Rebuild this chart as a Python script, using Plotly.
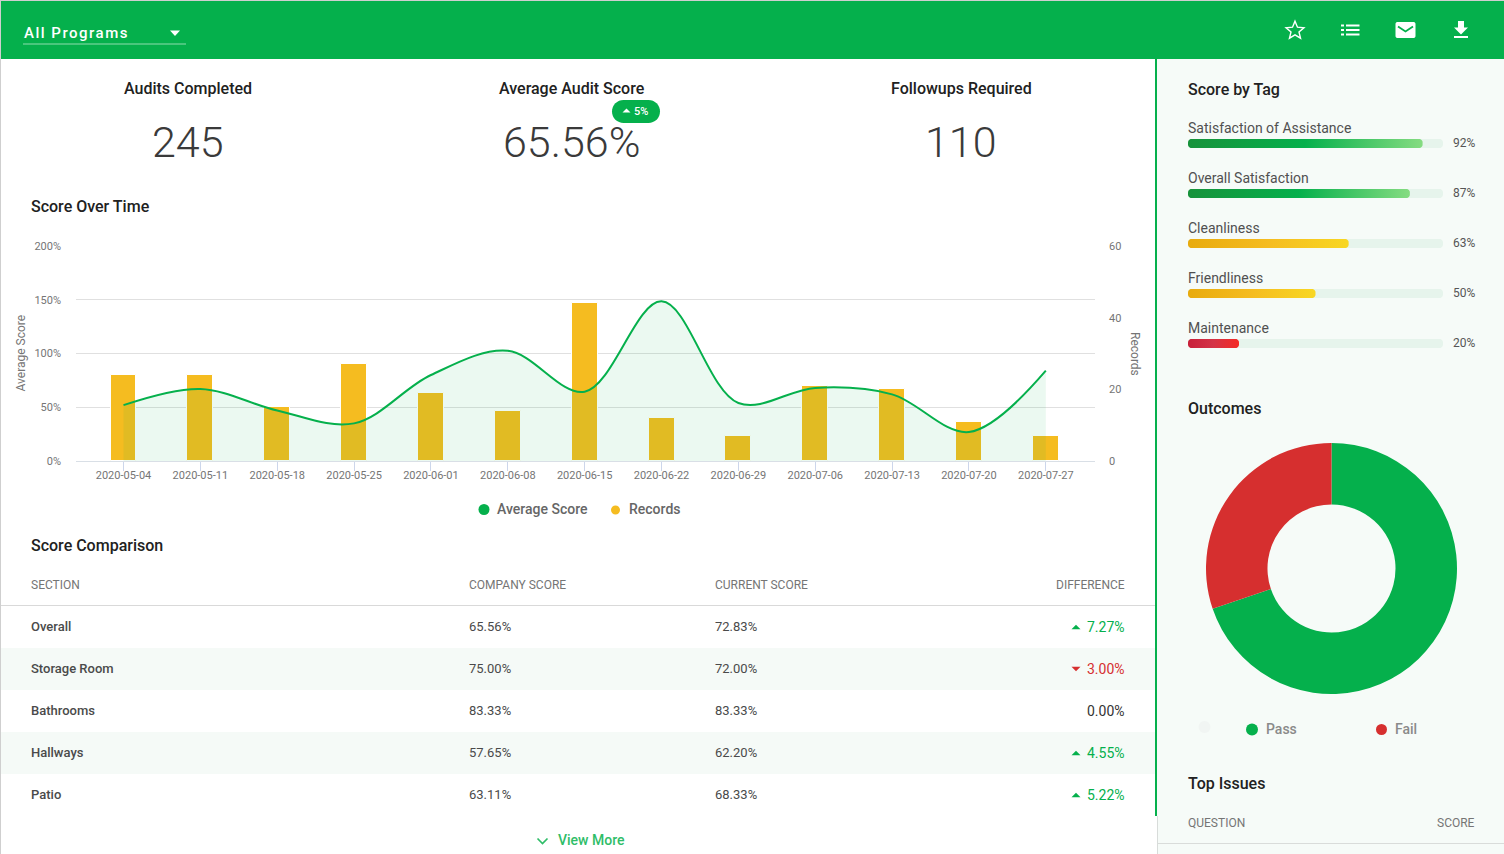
import math
import plotly.graph_objects as go

# ---------- data ----------
weeks = ["2020-05-04","2020-05-11","2020-05-18","2020-05-25","2020-06-01","2020-06-08","2020-06-15",
         "2020-06-22","2020-06-29","2020-07-06","2020-07-13","2020-07-20","2020-07-27"]
avg_score = [52, 67, 47, 35, 80, 102.5, 64.5, 148.5, 54, 68, 62, 27, 84]
records = [24, 24, 15, 27, 19, 14, 44, 12, 7, 21, 20, 11, 7]
score_ticks = [0, 50, 100, 150, 200]
score_tick_labels = ["0%", "50%", "100%", "150%", "200%"]
record_ticks = [0, 20, 40, 60]

tag_names = ["Satisfaction of Assistance", "Overall Satisfaction", "Cleanliness", "Friendliness", "Maintenance"]
tag_values = [92, 87, 63, 50, 20]

outcome_names = ["Pass", "Fail"]
outcome_values = [171, 74]

kpi_titles = ["Audits Completed", "Average Audit Score", "Followups Required"]
kpi_values = ["245", "65.56%", "110"]

table_headers = ["SECTION", "COMPANY SCORE", "CURRENT SCORE", "DIFFERENCE"]
sections = ["Overall", "Storage Room", "Bathrooms", "Hallways", "Patio"]
company_scores = ["65.56%", "75.00%", "83.33%", "57.65%", "63.11%"]
current_scores = ["72.83%", "72.00%", "83.33%", "62.20%", "68.33%"]
differences = ["7.27%", "3.00%", "0.00%", "4.55%", "5.22%"]
diff_dirs = [1, -1, 0, 1, 1]

# ---------- styles ----------
W, H = 1504, 854
GREEN = "#05b04c"
RED = "#d62f2f"
AMBER = "#f5bc20"
SIDE = "#f6fbf8"
FONT = "Roboto"

def fx(x): return x / W
def fy(y): return 1 - y / H

shapes, annos = [], []

def text(x, y, s, size=13, color="#424242", anchor="left", weight=400, angle=0):
    annos.append(dict(xref="paper", yref="paper", x=fx(x), y=fy(y), text=s, showarrow=False,
                      xanchor=anchor, yanchor="middle", borderpad=0, borderwidth=0, textangle=angle,
                      font=dict(family=FONT, size=size, color=color, weight=weight)))

def rect(x0, y0, x1, y1, color, layer="below"):
    shapes.append(dict(type="rect", xref="paper", yref="paper", x0=fx(x0), x1=fx(x1), y0=fy(y0), y1=fy(y1),
                       fillcolor=color, line_width=0, layer=layer))

def hline(x0, x1, y, color, width=1, layer="below"):
    shapes.append(dict(type="line", xref="paper", yref="paper", x0=fx(x0), x1=fx(x1), y0=fy(y), y1=fy(y),
                       line=dict(color=color, width=width), layer=layer))

def poly(points, fill=None, line=None, width=0, layer="above"):
    d = "M" + " L".join(f"{fx(a):.5f},{fy(b):.5f}" for a, b in points) + " Z"
    s = dict(type="path", xref="paper", yref="paper", path=d, layer=layer,
             line=dict(color=line or "rgba(0,0,0,0)", width=width))
    if fill:
        s["fillcolor"] = fill
    shapes.append(s)

def open_line(points, color, width):
    d = "M" + " L".join(f"{fx(a):.5f},{fy(b):.5f}" for a, b in points)
    shapes.append(dict(type="path", xref="paper", yref="paper", path=d, layer="above",
                       line=dict(color=color, width=width)))

def circle(cx, cy, r, color):
    shapes.append(dict(type="circle", xref="paper", yref="paper", x0=fx(cx - r), x1=fx(cx + r),
                       y0=fy(cy - r), y1=fy(cy + r), fillcolor=color, line_width=0))

def round_pts(x0, y0, x1, y1, r):
    pts = []
    for cx, cy, a0 in ((x1 - r, y0 + r, -90), (x1 - r, y1 - r, 0), (x0 + r, y1 - r, 90), (x0 + r, y0 + r, 180)):
        for k in range(9):
            a = math.radians(a0 + k * 90 / 8)
            pts.append((cx + r * math.cos(a), cy + r * math.sin(a)))
    return pts

def tri(cx, cy, w, h, up=True, color="#fff"):
    if up:
        poly([(cx - w / 2, cy + h / 2), (cx + w / 2, cy + h / 2), (cx, cy - h / 2)], fill=color)
    else:
        poly([(cx - w / 2, cy - h / 2), (cx + w / 2, cy - h / 2), (cx, cy + h / 2)], fill=color)

# ---------- page frame ----------
rect(1157, 59, W, H, SIDE)
rect(1155, 59, 1157, 816, GREEN)
rect(1157, 816, 1158, H, "#d8dcda")
rect(0, 0, 1, H, "#cfcfcf")
rect(0, 0, W, 1, "#cfcfcf")
rect(1, 1, W, 59, GREEN)

# header
text(33, 33.5, "All Programs", size=15, color="#ffffff", weight=500)
hline(23, 186, 44, "#8fdcae", 1)
tri(175, 33.2, 10, 5.4, up=False)
star = []
for i in range(10):
    r = 9.4 if i % 2 == 0 else 4.2
    a = math.radians(-90 + i * 36)
    star.append((1295 + r * math.cos(a), 30.6 + r * math.sin(a)))
poly(star, line="#ffffff", width=1.4)
for yy in (25.5, 30, 34.5):
    rect(1341, yy - 1, 1344, yy + 1, "#ffffff", layer="above")
    rect(1346, yy - 1, 1359.5, yy + 1, "#ffffff", layer="above")
poly(round_pts(1395.5, 22, 1415.5, 38, 2), fill="#ffffff")
open_line([(1398, 26.5), (1405.5, 31.5), (1413, 26.5)], GREEN, 1.8)
poly([(1458, 21), (1464, 21), (1464, 27.5), (1468, 27.5), (1461, 34.5), (1454, 27.5), (1458, 27.5)], fill="#ffffff")
rect(1454, 36, 1468, 38, "#ffffff", layer="above")

# KPI row
for cx, title, val in zip((188, 571.5, 961), kpi_titles, kpi_values):
    text(cx, 88, title, size=16, color="#212121", anchor="center", weight=500)
    text(cx, 142, val, size=43, color="#3a3a3a", anchor="center", weight=300)
poly(round_pts(612, 100, 660, 123, 11.5), fill=GREEN)
tri(626.5, 110.5, 8, 4)
text(634, 111, "5%", size=11, color="#ffffff", weight=500)

# section titles
text(31, 206.5, "Score Over Time", size=16, color="#212121", weight=500)
text(31, 545.5, "Score Comparison", size=16, color="#212121", weight=500)
text(1188, 89.5, "Score by Tag", size=16, color="#212121", weight=500)
text(1188, 408.5, "Outcomes", size=16, color="#212121", weight=500)
text(1188, 783.5, "Top Issues", size=16, color="#212121", weight=500)

# chart legend
circle(484, 509.5, 5.5, GREEN)
text(497, 509, "Average Score", size=14, color="#666666", weight=500)
circle(615.5, 510, 4.5, AMBER)
text(628.5, 509, "Records", size=14, color="#666666", weight=500)

# chart axis titles placed with the reference's rotation
text(21, 353.5, "Average Score", size=12, color="#757575", anchor="center", angle=-90)
text(1134.5, 353.5, "Records", size=12, color="#757575", anchor="center", angle=90)

# table
for x, h, anc in zip((31, 469, 715, 1125), table_headers, ("left", "left", "left", "right")):
    text(x, 585, h, size=12, color="#757575", anchor=anc)
hline(1, 1155, 605.5, "#d9d9d9")
ROW0, ROWH = 627, 42
for i, (sec, comp, cur, diff, d) in enumerate(zip(sections, company_scores, current_scores, differences, diff_dirs)):
    y = ROW0 + i * ROWH
    if i % 2 == 1:
        rect(1, y - 21, 1155, y + 21, "#f5faf7")
    text(31, y - 0.8, sec, size=13, color="#4a4a4a", weight=500)
    text(469, y - 0.8, comp, size=13, color="#4a4a4a")
    text(715, y - 0.8, cur, size=13, color="#4a4a4a")
    col = {1: GREEN, -1: RED, 0: "#333333"}[d]
    text(1125, y - 0.3, diff, size=14, color=col, anchor="right")
    if d:
        tri(1076, y, 9, 4.6, up=d > 0, color=col)

open_line([(537.5, 838.5), (542.5, 843.5), (547.5, 838.5)], "#2fbd68", 1.7)
text(558, 840, "View More", size=14, color="#2fbd68", weight=500)

# outcomes legend
circle(1204.5, 727, 6, "#f1f5f3")
circle(1252, 729.5, 6, GREEN)
text(1266, 729, outcome_names[0], size=14, color="#8a8a8a", weight=500)
circle(1381.5, 729.5, 5.5, RED)
text(1395, 729, outcome_names[1], size=14, color="#8a8a8a", weight=500)

# top issues header
text(1188, 823, "QUESTION", size=12, color="#757575")
text(1475, 823, "SCORE", size=12, color="#757575", anchor="right")
hline(1158, W, 843.5, "#d9dcda")

# ---------- figure ----------
fig = go.Figure()

# records bars on main (right) axis so that the area and line stay above them
fig.add_trace(go.Bar(x=weeks, y=records, name="Records", xaxis="x", yaxis="y",
                     width=0.338, marker=dict(color=AMBER, line=dict(color="#ffffff", width=1)),
                     hoverinfo="x+y"))
fig.add_trace(go.Scatter(x=weeks, y=avg_score, name="Average Score", xaxis="x", yaxis="y2", mode="lines",
                         line=dict(color=GREEN, width=2, shape="spline", smoothing=1.0),
                         fill="tozeroy", fillcolor="rgba(5,176,76,0.08)"))

# tag bars: rounded gradient fills
BAR_PX, BAR_HALF_PX, ROW_PX = 255, 4.5, 50
CORNER = 3.5
GRADS = {
    "g": [[0, "#17923b"], [0.5, "#05b04c"], [1, "#85dc81"]],
    "y": [[0, "#e8ab0e"], [0.5, "#f5bc20"], [1, "#f8d723"]],
    "r": [[0, "#c8203a"], [0.5, "#d43346"], [1, "#f52a25"]],
}
def pill(value, row):
    rx = CORNER / BAR_PX * 100
    ry = CORNER / ROW_PX
    top, bot = row - BAR_HALF_PX / ROW_PX, row + BAR_HALF_PX / ROW_PX
    xs, ys = [], []
    for cx, cy, a0 in ((value - rx, top + ry, -90), (value - rx, bot - ry, 0), (rx, bot - ry, 90), (rx, top + ry, 180)):
        for k in range(7):
            a = math.radians(a0 + k * 15)
            xs.append(cx + rx * math.cos(a))
            ys.append(cy + ry * math.sin(a))
    return xs + xs[:1], ys + ys[:1]

for row, (name, val) in enumerate(zip(tag_names, tag_values)):
    tx, ty = pill(100, row)
    fig.add_trace(go.Scatter(x=tx, y=ty, xaxis="x3", yaxis="y3", mode="none", fill="toself",
                             fillcolor="#e6f4ec", hoverinfo="skip", showlegend=False))
    vx, vy = pill(val, row)
    g = GRADS["g"] if val >= 70 else GRADS["y"] if val >= 40 else GRADS["r"]
    fig.add_trace(go.Scatter(x=vx, y=vy, xaxis="x3", yaxis="y3", mode="none", fill="toself", name=name,
                             fillgradient=dict(type="horizontal", colorscale=g),
                             hoverinfo="name", showlegend=False))
    text(1188, 127.8 + row * ROW_PX, name, size=14, color="#505050")
    text(1475, 143 + row * ROW_PX, f"{val}%", size=12, color="#555555", anchor="right")

fig.add_trace(go.Pie(labels=outcome_names, values=outcome_values, hole=0.51, sort=False, direction="clockwise",
                     rotation=0, textinfo="none", showlegend=False,
                     marker=dict(colors=[GREEN, RED], line=dict(width=0)),
                     domain=dict(x=[fx(1206), fx(1457)], y=[fy(694), fy(443)])))

axis_font = dict(family=FONT, size=11, color="#757575")
fig.update_layout(
    width=W, height=H, autosize=False,
    margin=dict(l=0, r=0, t=0, b=0, pad=0, autoexpand=False),
    paper_bgcolor="#ffffff", plot_bgcolor="rgba(0,0,0,0)",
    font=dict(family=FONT), showlegend=False, bargap=0,
    shapes=shapes, annotations=annos,
    xaxis=dict(domain=[fx(76), fx(1095)], type="category", range=[-0.618, 12.64], anchor="y",
               showgrid=False, showline=True, linecolor="#d9dfe6", linewidth=1,
               ticks="outside", ticklen=9, tickcolor="#ccd6eb", tickwidth=1,
               ticklabelstandoff=-5, tickfont=axis_font, tickangle=0, zeroline=False),
    yaxis=dict(domain=[fy(461), fy(246)], range=[0, 60], side="right", anchor="x",
               tickmode="array", tickvals=record_ticks, ticktext=[str(v) for v in record_ticks],
               tickfont=axis_font, showgrid=False, zeroline=False,
               ticks="", ticklabelstandoff=13,
               minor=dict(tickvals=[15, 30, 45, 60], showgrid=True, gridcolor="#e0e0e0", gridwidth=1, ticks="")),
    yaxis2=dict(domain=[fy(461), fy(246)], range=[0, 200], side="left", overlaying="y", anchor="x",
                tickmode="array", tickvals=score_ticks, ticktext=score_tick_labels,
                tickfont=axis_font, showgrid=False,
                zeroline=False, ticks="", ticklabelstandoff=14),
    xaxis3=dict(domain=[fx(1188), fx(1443)], range=[0, 100], visible=False, anchor="y3", fixedrange=True),
    yaxis3=dict(domain=[fy(368.5), fy(118.5)], range=[4.5, -0.5], visible=False, anchor="x3", fixedrange=True),
)

spacing_js = """
document.body.style.margin='0';document.body.style.overflow='hidden';
document.querySelectorAll('.annotation-text').forEach(function(t){
  if(t.textContent==='All Programs'){t.style.letterSpacing='1.5px';}
});
"""
fig.write_html("out.html", config=dict(displayModeBar=False), post_script=spacing_js)
